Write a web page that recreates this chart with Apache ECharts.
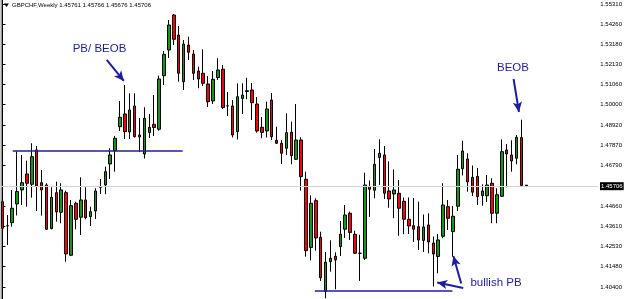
<!DOCTYPE html>
<html><head><meta charset="utf-8">
<script src="https://cdn.jsdelivr.net/npm/echarts@6/dist/echarts.min.js"></script>
<style>html,body{margin:0;padding:0;background:#fff}#c{width:625px;height:299px}</style>
</head><body><div id="c"></div>
<script>
// GBPCHF weekly candles
const opens = [1.44890,1.43620,1.43784,1.44769,1.45507,1.46350,1.45807,1.47615,1.45892,1.45770,
1.43468,1.45365,1.44332,1.45365,1.42066,1.44806,1.44068,1.44980,1.44100,1.44400,
1.45649,1.45770,1.46877,1.47578,1.48843,1.49512,1.48564,1.49934,1.48300,1.47404,
1.48537,1.48969,1.48706,1.51531,1.52885,1.54729,1.53675,1.51214,1.53148,1.52674,
1.51778,1.51657,1.51093,1.50197,1.51436,1.51873,1.49944,1.49934,1.48579,1.50329,
1.50698,1.50777,1.50039,1.48811,1.48616,1.50250,1.48126,1.47968,1.47705,1.48548,
1.47125,1.48142,1.46071,1.42477,1.44943,1.43014,1.40158,1.41728,1.42013,1.42519,
1.43436,1.44279,1.43172,1.42171,1.41908,1.45691,1.45491,1.47220,1.47351,1.45454,
1.45296,1.45333,1.44911,1.43963,1.43626,1.43573,1.42846,1.43662,1.42714,1.42002,
1.43067,1.44627,1.43309,1.44648,1.46624,1.47141,1.46176,1.46229,1.45207,1.45201,
1.45860,1.44279,1.45175,1.47615,1.47351,1.47178,1.48274,1.45761];
const closes = [1.43489,1.43620,1.44543,1.45428,1.45892,1.45860,1.47262,1.45718,1.45507,1.43436,
1.45122,1.44348,1.45507,1.42134,1.44680,1.43963,1.44980,1.44047,1.44363,1.45454,
1.45649,1.46471,1.47351,1.48232,1.49338,1.48579,1.49723,1.48316,1.48405,1.49286,
1.48811,1.48801,1.51357,1.52658,1.54202,1.53449,1.51657,1.53201,1.52764,1.51657,
1.51357,1.51130,1.50160,1.51341,1.51831,1.49855,1.49944,1.48405,1.50424,1.50513,
1.50740,1.50108,1.48616,1.48537,1.49776,1.48316,1.47968,1.47441,1.48527,1.47315,
1.48142,1.46208,1.42308,1.44806,1.42977,1.40885,1.41697,1.41908,1.41818,1.43172,
1.44189,1.43267,1.42171,1.42171,1.45770,1.45544,1.46861,1.47441,1.45333,1.45033,
1.45507,1.44543,1.43963,1.43610,1.43436,1.42872,1.43557,1.42767,1.42134,1.42872,
1.44716,1.44016,1.44121,1.46598,1.47562,1.45929,1.45391,1.45154,1.45454,1.45770,
1.44279,1.45259,1.47525,1.47404,1.47035,1.48284,1.45744,1.45706];
const lows = [1.42187,1.42608,1.43573,1.44163,1.44716,1.44627,1.45101,1.44400,1.44153,1.43399,
1.43436,1.43836,1.43752,1.41728,1.42029,1.43436,1.43135,1.43963,1.43610,1.43979,
1.45296,1.45280,1.46087,1.46471,1.48616,1.48195,1.48195,1.48274,1.47510,1.47167,
1.48247,1.48353,1.48632,1.51040,1.52463,1.53148,1.51214,1.50777,1.52358,1.51304,
1.50867,1.50988,1.49881,1.50039,1.51304,1.49776,1.49407,1.48274,1.48168,1.49512,
1.50287,1.49196,1.48527,1.48232,1.48274,1.48142,1.47931,1.46877,1.47351,1.46861,
1.47088,1.45470,1.41992,1.41792,1.42308,1.40711,1.39800,1.41201,1.40274,1.42029,
1.42977,1.42872,1.42134,1.40711,1.41818,1.44084,1.45070,1.45770,1.45033,1.44569,
1.44016,1.43093,1.43178,1.43188,1.42767,1.42345,1.42240,1.42171,1.40421,1.41117,
1.42962,1.43399,1.41992,1.44400,1.46271,1.45417,1.45191,1.44716,1.44680,1.44875,
1.43752,1.43752,1.45138,1.45649,1.46471,1.46861,1.45691,1.45676];
const highs = [1.45033,1.44189,1.45507,1.47536,1.47351,1.47051,1.47968,1.47826,1.46561,1.45860,
1.45649,1.45944,1.45860,1.45470,1.44980,1.44890,1.46176,1.45649,1.44627,1.45597,
1.46087,1.46735,1.47705,1.48353,1.50197,1.51040,1.50603,1.50603,1.49301,1.49865,
1.49512,1.50513,1.51531,1.52832,1.54466,1.54782,1.54150,1.53412,1.53586,1.52885,
1.52005,1.52922,1.51515,1.51778,1.52448,1.52094,1.50672,1.50250,1.51120,1.51130,
1.51425,1.51146,1.50408,1.49354,1.50160,1.50619,1.48843,1.48142,1.49549,1.49106,
1.50039,1.48284,1.46471,1.45228,1.45070,1.43309,1.42240,1.42856,1.42224,1.43873,
1.44716,1.44363,1.43362,1.43151,1.46419,1.46008,1.47668,1.48179,1.47826,1.47019,
1.46587,1.46034,1.45112,1.45112,1.45085,1.44890,1.44216,1.44279,1.43056,1.43188,
1.45860,1.44980,1.44664,1.47351,1.48100,1.47441,1.46798,1.46666,1.45807,1.46297,
1.46124,1.45597,1.48168,1.47931,1.48126,1.48405,1.49212,1.45766];
const priceTicks = [1.55310,1.54260,1.53180,1.52130,1.51060,1.50000,1.48920,1.47870,1.46790,1.44660,1.43610,1.42530,1.41480,1.40400];
const lastPrice = 1.45706;
const titleText = 'GBPCHF,Weekly 1.45761 1.45766 1.45676 1.45706';
// horizontal levels: [fromBar, toBar, price]
const levels = [[2.1, 36.8, 1.47578], [63.8, 91.9, 1.40169]];
// arrows: [fromBar, fromPrice, toBar, toPrice]
const arrows = [[21.3, 1.52358, 24.8, 1.51251], [104.4, 1.51357, 105.5, 1.49618],
                [94.1, 1.40342, 88.8, 1.40632], [93.7, 1.40580, 92.1, 1.42029]];
const totalSlots = 122;

const cats = [];
for (let i = 0; i < totalSlots; i++) cats.push('W' + (i + 1));
const candles = opens.map((o, i) => [o, closes[i], lows[i], highs[i]]);
const navy = '#1c1ca6';

const chart = echarts.init(document.getElementById('c'), null, {renderer: 'canvas'});
chart.setOption({
  animation: false,
  backgroundColor: '#ffffff',
  grid: {left: 0, right: 27, top: 0, bottom: 0},
  xAxis: [
    {type: 'category', data: cats, boundaryGap: true, show: false},
    {type: 'value', min: -0.5, max: totalSlots - 0.5, show: false}
  ],
  yAxis: {
    type: 'value', position: 'right', min: 1.3976, max: 1.5552, scale: true,
    splitLine: {show: false},
    axisLine: {show: true, lineStyle: {color: '#000', width: 1}},
    axisTick: {show: true, inside: false, length: 3, lineStyle: {color: '#000'}, customValues: priceTicks},
    axisLabel: {show: true, margin: 3, color: '#000', fontSize: 6, fontFamily: 'Liberation Sans',
      customValues: priceTicks, formatter: v => v.toFixed(5)}
  },
  series: [
    {
      type: 'candlestick', xAxisIndex: 0, yAxisIndex: 0, data: candles, barWidth: 3,
      itemStyle: {color: '#119911', color0: '#ff0000', borderColor: '#000', borderColor0: '#000', borderColorDoji: '#000', borderWidth: 1},
      markLine: {
        silent: true, symbol: ['none', 'none'], animation: false,
        label: {show: false},
        data: [[
          {yAxis: lastPrice, x: 0, lineStyle: {color: '#d4d4d4', width: 1, type: 'solid'},
           label: {show: true, position: 'end', distance: 2, formatter: lastPrice.toFixed(5), color: '#fff', backgroundColor: '#000',
             padding: [1, 1, 1, 1], fontSize: 6, fontFamily: 'Liberation Sans'}},
          {yAxis: lastPrice, x: 598}
        ]]
      }
    },
    {
      type: 'line', xAxisIndex: 1, yAxisIndex: 0, data: [], silent: true,
      markLine: {
        silent: true, symbol: ['none', 'none'], animation: false, label: {show: false},
        data: levels.map(l => [
          {coord: [l[0], l[2]], lineStyle: {color: navy, width: 1.5, type: 'solid'}},
          {coord: [l[1], l[2]]}
        ]).concat(arrows.map(a => [
          {coord: [a[0], a[1]], symbol: 'none', lineStyle: {color: navy, width: 2, type: 'solid'}},
          {coord: [a[2], a[3]], symbol: 'arrow', symbolSize: [7, 10]}
        ]))
      }
    }
  ],
  graphic: [
    {type: 'line', shape: {x1: 1.5, y1: 0, x2: 1.5, y2: 299}, style: {stroke: '#9a9a9a', lineWidth: 2}, silent: true},
    {type: 'polygon', shape: {points: [[4, 3.5], [9, 3.5], [6.5, 7]]}, style: {fill: '#000'}},
    {type: 'text', left: 12, top: 2, style: {text: titleText, fill: '#000', fontSize: 6, fontFamily: 'Liberation Sans'}},
    {type: 'text', x: 99.5, y: 49, style: {text: 'PB/ BEOB', fill: navy, fontSize: 11.5, fontFamily: 'Liberation Sans', align: 'center', verticalAlign: 'middle'}},
    {type: 'text', x: 513, y: 68, style: {text: 'BEOB', fill: navy, fontSize: 11.5, fontFamily: 'Liberation Sans', align: 'center', verticalAlign: 'middle'}},
    {type: 'text', x: 496, y: 283, style: {text: 'bullish PB', fill: navy, fontSize: 11.5, fontFamily: 'Liberation Sans', align: 'center', verticalAlign: 'middle'}}
  ]
});
</script></body></html>
